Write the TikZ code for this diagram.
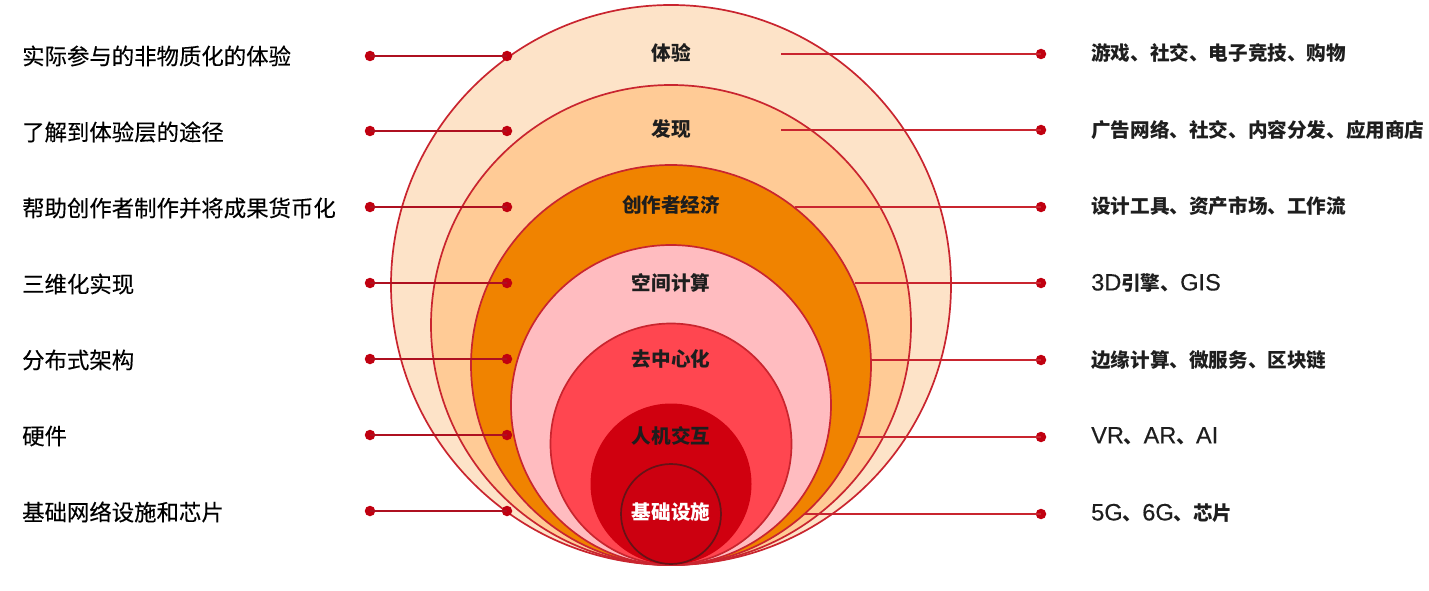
\documentclass[tikz,border=0pt]{standalone}
\usepackage{fontspec}
\setmainfont{Noto Sans CJK SC}
\newfontfamily\leftfont[FakeBold=0.25]{Noto Sans CJK SC}
\newfontfamily\latfont[FakeBold=0.3]{Liberation Sans}
\newcommand{\lat}[1]{{\latfont\mdseries\fontsize{23.6pt}{24pt}\selectfont #1}}
\definecolor{ringline}{HTML}{C9252F}
\definecolor{dotred}{HTML}{C00010}
\definecolor{leadred}{HTML}{AE1020}
\definecolor{txt}{HTML}{1E1E1E}
\definecolor{ringa}{HTML}{FDE3C8}
\definecolor{ringb}{HTML}{FFCB96}
\definecolor{ringc}{HTML}{F08300}
\definecolor{ringd}{HTML}{FFBCC0}
\definecolor{ringe}{HTML}{FF4650}
\definecolor{ringf}{HTML}{D0000F}
\definecolor{ringg}{HTML}{CC0010}
\tikzset{
  x=1pt,y=-1pt,
  ring/.style={circle,draw=ringline,line width=1.7pt,inner sep=0pt,outer sep=0pt},
  dot/.style={circle,fill=dotred,inner sep=0pt,minimum size=10.5pt},
  lead/.style={draw=leadred,line width=2.6pt},
  rlead/.style={draw=ringline,line width=2pt},
  leftlabel/.style={anchor=west,inner sep=0pt,font=\leftfont\fontsize{22.4pt}{24pt}\selectfont,text=black},
  rightlabel/.style={anchor=west,inner sep=0pt,font=\bfseries\fontsize{19.6pt}{22pt}\selectfont,text=txt},
  centerlabel/.style={inner sep=0pt,font=\bfseries\fontsize{19.6pt}{22pt}\selectfont,text=txt}
}
\begin{document}
\begin{tikzpicture}
\useasboundingbox (0,0) rectangle (1429,591);
% rings
\node[ring,fill=ringa,minimum size=560pt] (ra) at (671,285) {};
\node[ring,fill=ringb,minimum size=480pt] (rb) at (671,325) {};
\node[ring,fill=ringc,minimum size=400pt] (rc) at (671,365) {};
\node[ring,fill=ringd,minimum size=320pt] (rd) at (671,405) {};
\node[ring,fill=ringe,minimum size=241pt] (re) at (671,444) {};
\node[circle,fill=ringf,inner sep=0pt,minimum size=161pt] (rf) at (671,484) {};
\node[ring,draw=black!50!ringline,fill=ringg,minimum size=100pt] (rg) at (671,514) {};
% centre labels
\node[centerlabel] (ca) at (671,53) {体验};
\node[centerlabel] (cb) at (671,129) {发现};
\node[centerlabel] (cc) at (671,205) {创作者经济};
\node[centerlabel] (cd) at (671,283) {空间计算};
\node[centerlabel] (ce) at (671,359) {去中心化};
\node[centerlabel] (cf) at (671,436) {人机交互};
\node[centerlabel,text=white] (cg) at (671,512) {基础设施};
% left dots
\foreach \n/\y in {a/56,b/131,c/207,d/283,e/359,f/435,g/511}{
  \node[dot] (lo\n) at (370,\y) {};
  \node[dot] (li\n) at (507,\y) {};
  \draw[lead] (lo\n.center) -- (li\n.center);
}
% right connectors
\foreach \n/\x/\y in {a/781/54,b/781/130,c/795/207,d/855/283,e/872/360,f/858/437,g/805/514}{
  \coordinate (rs\n) at (\x,\y);
  \node[dot] (ro\n) at (1041,\y) {};
  \draw[rlead] (rs\n) -- (ro\n.center);
}
% left labels
\node[leftlabel] (ta) at (22,56) {实际参与的非物质化的体验};
\node[leftlabel] (tb) at (22,132) {了解到体验层的途径};
\node[leftlabel] (tc) at (22,208) {帮助创作者制作并将成果货币化};
\node[leftlabel] (td) at (22,284) {三维化实现};
\node[leftlabel] (te) at (22,360) {分布式架构};
\node[leftlabel] (tf) at (22,436) {硬件};
\node[leftlabel] (tg) at (22,512) {基础网络设施和芯片};
% right labels
\node[rightlabel] (ua) at (1091,53) {游戏、社交、电子竞技、购物};
\node[rightlabel] (ub) at (1091,130) {广告网络、社交、内容分发、应用商店};
\node[rightlabel] (uc) at (1091,206) {设计工具、资产市场、工作流};
\node[rightlabel] (ud) at (1091,283) {\lat{3D}引擎、\lat{GIS}};
\node[rightlabel] (ue) at (1091,360) {边缘计算、微服务、区块链};
\node[rightlabel] (uf) at (1091,436) {\lat{VR}、\lat{AR}、\lat{AI}};
\node[rightlabel] (ug) at (1091,513) {\lat{5G}、\lat{6G}、芯片};
\end{tikzpicture}
\end{document}
